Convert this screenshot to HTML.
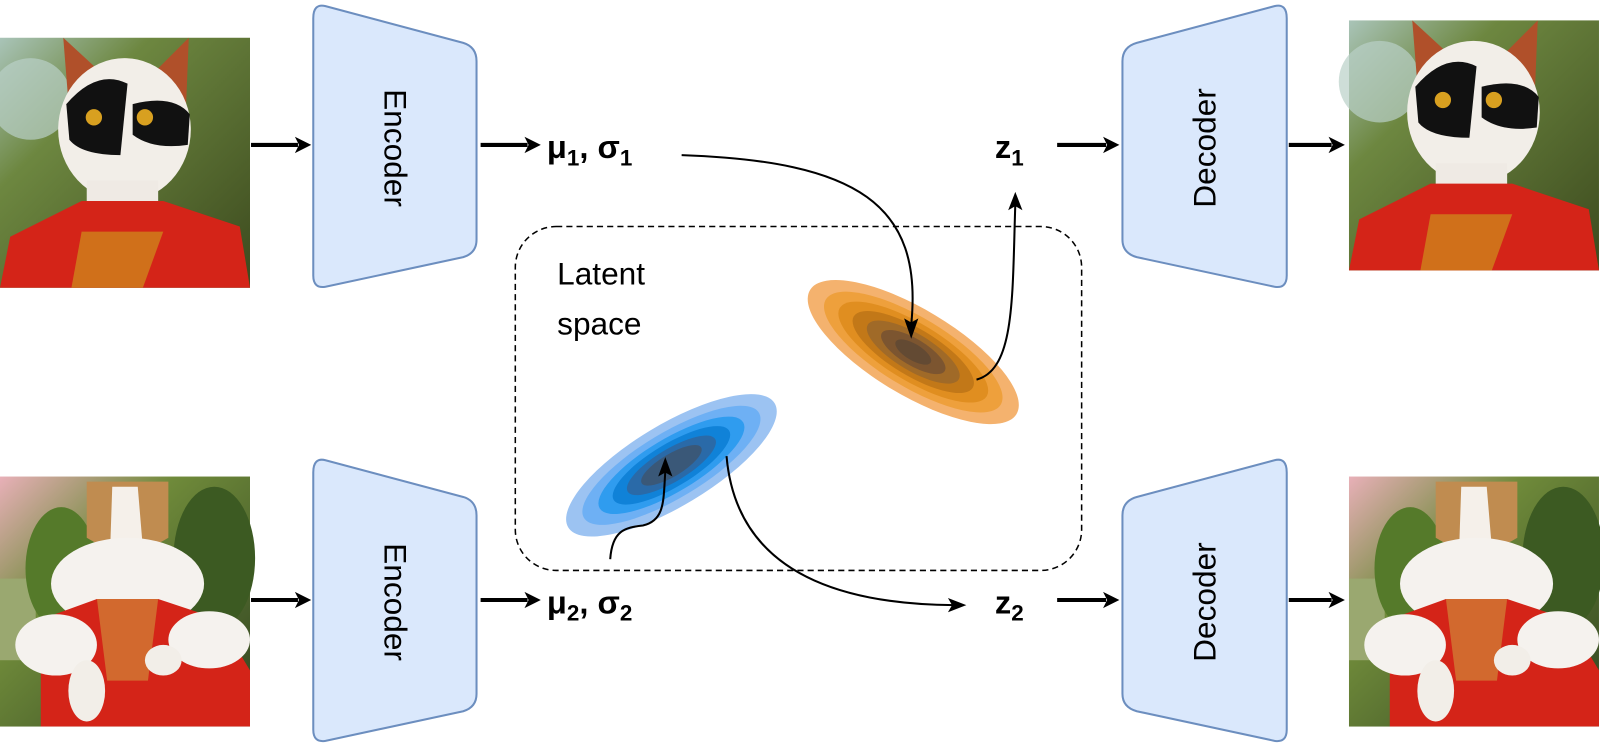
<!DOCTYPE html>
<html><head><meta charset="utf-8"><style>
html,body{margin:0;padding:0;background:#fff;}
svg{display:block;}
text{font-family:"Liberation Sans",Arial,sans-serif;}
</style></head><body>
<svg width="1600" height="749" viewBox="0 0 1568 734" preserveAspectRatio="none">
<defs>
  <linearGradient id="bg1" x1="0" y1="0" x2="1" y2="1">
    <stop offset="0" stop-color="#a9c4b8"/><stop offset="0.3" stop-color="#6d8740"/><stop offset="1" stop-color="#3c4a1e"/>
  </linearGradient>
  <linearGradient id="bg2" x1="0" y1="0" x2="1" y2="1">
    <stop offset="0" stop-color="#e8b0b8"/><stop offset="0.35" stop-color="#6f8a3a"/><stop offset="1" stop-color="#2f4220"/>
  </linearGradient>
  <g id="cat1">
    <rect x="0" y="0" width="245" height="245" fill="url(#bg1)"/>
    <ellipse cx="30" cy="60" rx="40" ry="40" fill="#b9d0c8" opacity="0.7"/>
    <polygon points="62,0 100,35 68,75" fill="#b0502a"/>
    <polygon points="185,0 150,35 182,75" fill="#b0502a"/>
    <ellipse cx="122" cy="90" rx="65" ry="70" fill="#f2eee8"/>
    <path d="M65,65 Q95,30 125,45 L118,115 Q80,115 68,100 Z" fill="#111"/>
    <path d="M130,65 Q170,55 186,75 L184,105 Q150,110 130,95 Z" fill="#111"/>
    <circle cx="92" cy="78" r="8" fill="#d8a020"/><circle cx="142" cy="78" r="8" fill="#d8a020"/>
    <rect x="85" y="140" width="70" height="50" fill="#efeae4"/>
    <path d="M0,245 L10,195 L80,160 L160,160 L235,185 L245,245 Z" fill="#d42418"/>
    <polygon points="80,190 160,190 140,245 70,245" fill="#d0701a"/>
  </g>
  <g id="cat2">
    <rect x="0" y="0" width="245" height="245" fill="url(#bg2)"/>
    <rect x="0" y="100" width="35" height="80" fill="#9aa870"/>
    <ellipse cx="60" cy="90" rx="35" ry="60" fill="#557a2a"/>
    <ellipse cx="210" cy="80" rx="40" ry="70" fill="#3c5a22"/>
    <path d="M85,5 L165,5 L165,60 Q125,85 85,60 Z" fill="#c08c50"/>
    <path d="M110,10 L135,10 L140,70 L108,70 Z" fill="#f5f0ea"/>
    <ellipse cx="125" cy="105" rx="75" ry="45" fill="#f5f2ee"/>
    <path d="M40,245 L40,140 L95,120 L155,120 L215,140 L245,190 L245,245 Z" fill="#d42418"/>
    <polygon points="95,120 155,120 145,200 105,200" fill="#d2692e"/>
    <ellipse cx="55" cy="165" rx="40" ry="30" fill="#f5f2ee"/>
    <ellipse cx="205" cy="160" rx="40" ry="28" fill="#f5f2ee"/>
    <ellipse cx="85" cy="210" rx="18" ry="30" fill="#f2eee8"/>
    <ellipse cx="160" cy="180" rx="18" ry="15" fill="#f2eee8"/>
  </g>
</defs>

<use href="#cat1" x="0" y="37"/>
<use href="#cat1" x="1322" y="20"/>
<use href="#cat2" x="0" y="467"/>
<use href="#cat2" x="1322" y="467"/>

<g fill="#dae8fc" stroke="#6c8ebf" stroke-width="2">
  <path d="M319,6 L454,42 Q467,46 467,60 L467,235 Q467,248 454,252 L319,281 Q307,283 307,270 L307,18 Q307,3 319,6 Z"/>
  <path d="M319,451 L454,487 Q467,491 467,505 L467,680 Q467,693 454,697 L319,726 Q307,728 307,715 L307,463 Q307,448 319,451 Z"/>
  <path d="M1249,6 L1114,42 Q1100,46 1100,60 L1100,235 Q1100,248 1114,252 L1249,281 Q1261,283 1261,270 L1261,18 Q1261,3 1249,6 Z"/>
  <path d="M1249,451 L1114,487 Q1100,491 1100,505 L1100,680 Q1100,693 1114,697 L1249,726 Q1261,728 1261,715 L1261,463 Q1261,448 1249,451 Z"/>
</g>
<g font-size="31" fill="#000">
  <text transform="translate(377,145) rotate(90)" text-anchor="middle">Encoder</text>
  <text transform="translate(377,590) rotate(90)" text-anchor="middle">Encoder</text>
  <text transform="translate(1191,145) rotate(-90)" text-anchor="middle">Decoder</text>
  <text transform="translate(1191,590) rotate(-90)" text-anchor="middle">Decoder</text>
</g>

<g stroke="#000" stroke-width="4" fill="#000">
  <line x1="246" y1="142" x2="292" y2="142"/><polygon points="305,142 289,134 293,142 289,150" stroke="none"/>
  <line x1="471" y1="142" x2="517" y2="142"/><polygon points="530,142 514,134 518,142 514,150" stroke="none"/>
  <line x1="1036" y1="142" x2="1084" y2="142"/><polygon points="1097,142 1081,134 1085,142 1081,150" stroke="none"/>
  <line x1="1263" y1="142" x2="1305" y2="142"/><polygon points="1318,142 1302,134 1306,142 1302,150" stroke="none"/>
  <line x1="246" y1="588" x2="292" y2="588"/><polygon points="305,588 289,580 293,588 289,596" stroke="none"/>
  <line x1="471" y1="588" x2="517" y2="588"/><polygon points="530,588 514,580 518,588 514,596" stroke="none"/>
  <line x1="1036" y1="588" x2="1084" y2="588"/><polygon points="1097,588 1081,580 1085,588 1081,596" stroke="none"/>
  <line x1="1263" y1="588" x2="1305" y2="588"/><polygon points="1318,588 1302,580 1306,588 1302,596" stroke="none"/>
</g>

<g font-size="32" font-weight="bold" fill="#000">
  <text x="536" y="155">μ<tspan font-size="22" dy="7">1</tspan><tspan dy="-7">, σ</tspan><tspan font-size="22" dy="7">1</tspan></text>
  <text x="536" y="601">μ<tspan font-size="22" dy="7">2</tspan><tspan dy="-7">, σ</tspan><tspan font-size="22" dy="7">2</tspan></text>
  <text x="975" y="155">z<tspan font-size="22" dy="7">1</tspan></text>
  <text x="975" y="601">z<tspan font-size="22" dy="7">2</tspan></text>
</g>

<rect x="505" y="222" width="555" height="337" rx="40" fill="none" stroke="#000" stroke-width="1.5" stroke-dasharray="6,4"/>
<text x="546" y="279" font-size="31">Latent</text>
<text x="546" y="328" font-size="31">space</text>

<g transform="translate(895,345) rotate(31)">
  <ellipse rx="118" ry="42" fill="#f4b26e"/>
  <ellipse rx="100" ry="34" fill="#eea03c"/>
  <ellipse rx="84" ry="28" fill="#e08e20"/>
  <ellipse rx="68" ry="23" fill="#c27818"/>
  <ellipse rx="52" ry="18" fill="#a06a28"/>
  <ellipse rx="36" ry="13" fill="#7c5530"/>
  <ellipse rx="20" ry="8" fill="#634a33"/>
</g>
<g transform="translate(658,456) rotate(-31)">
  <ellipse rx="118" ry="40" fill="#9cc3f2"/>
  <ellipse rx="100" ry="32" fill="#6eb0f4"/>
  <ellipse rx="82" ry="26" fill="#2f9cef"/>
  <ellipse rx="66" ry="21" fill="#1082d8"/>
  <ellipse rx="50" ry="16" fill="#2a6aa8"/>
  <ellipse rx="34" ry="11" fill="#3a5878"/>
</g>

<g fill="none" stroke="#000" stroke-width="2">
  <path d="M668,152 C840,158 905,200 893,318"/>
  <path d="M957,372 C995,362 992,290 995,200"/>
  <path d="M598,548 C600,520 612,517 630,515 C652,510 650,490 652,462"/>
  <path d="M712,447 C720,540 790,592 935,593"/>
</g>
<g fill="#000">
  <polygon points="893,332 886,312 893,316 900,312"/>
  <polygon points="995,188 988,206 995,202 1002,206"/>
  <polygon points="652,448 645,467 652,463 659,467"/>
  <polygon points="947,593 929,586 933,593 929,600"/>
</g>
</svg>
</body></html>
